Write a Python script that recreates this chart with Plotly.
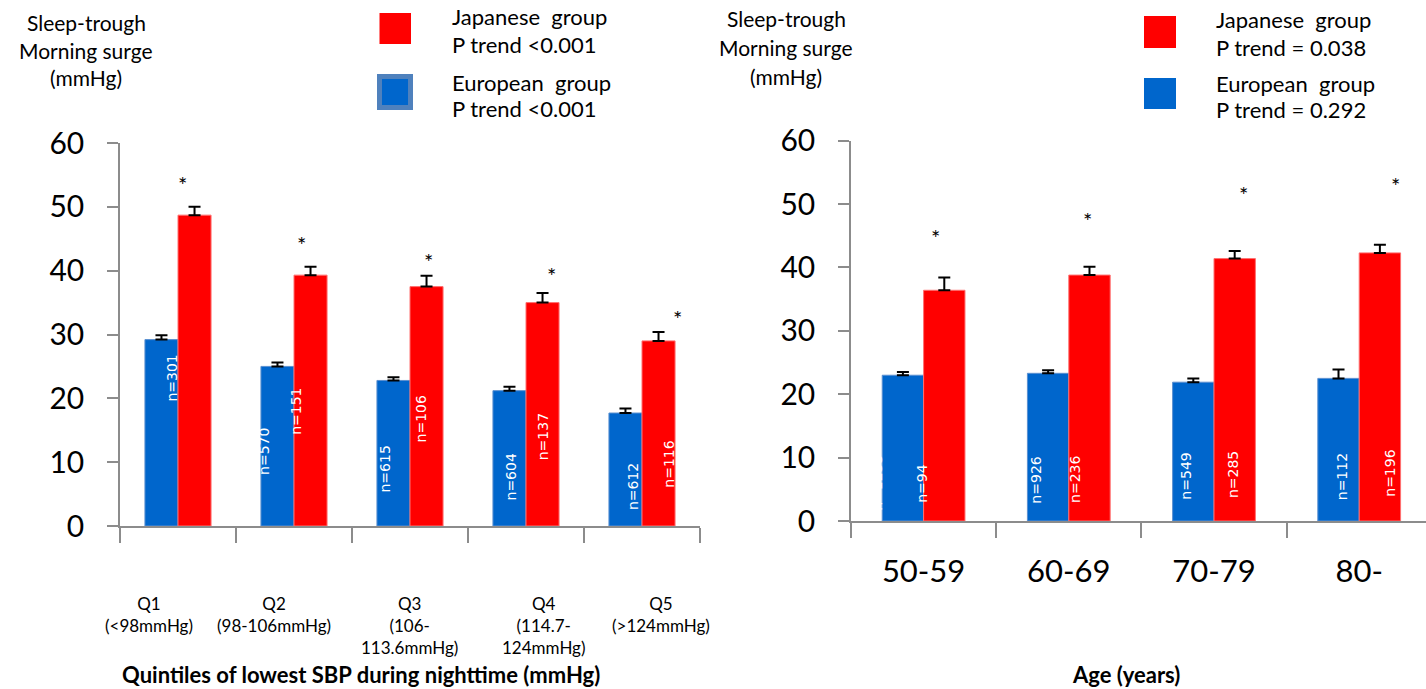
import plotly.graph_objects as go

W, H = 1426, 689

# ---------------- data ----------------
quint_cats = ["Q1", "Q2", "Q3", "Q4", "Q5"]
quint_labels = ["Q1<br>(&lt;98mmHg)", "Q2<br>(98-106mmHg)", "Q3<br>(106-<br>113.6mmHg)",
                "Q4<br>(114.7-<br>124mmHg)", "Q5<br>(&gt;124mmHg)"]
eu_quint = [29.2, 25.0, 22.8, 21.2, 17.7]
eu_quint_se = [0.7, 0.6, 0.5, 0.6, 0.7]
jp_quint = [48.7, 39.3, 37.5, 35.0, 29.0]
jp_quint_se = [1.3, 1.3, 1.7, 1.5, 1.4]
eu_quint_n = ["", "n=570", "n=615", "n=604", "n=612"]
jp_quint_n = ["n=301", "n=151", "n=106", "n=137", "n=116"]

age_cats = ["50-59", "60-69", "70-79", "80-"]
eu_age = [23.0, 23.3, 21.9, 22.5]
eu_age_se = [0.5, 0.5, 0.6, 1.4]
jp_age = [36.4, 38.8, 41.4, 42.3]
jp_age_se = [2.0, 1.3, 1.2, 1.3]
eu_age_n = ["n=1235", "n=926", "n=549", "n=112"]
jp_age_n = ["n=94", "n=236", "n=285", "n=196"]

ytitle_lines = ["Sleep-trough", "Morning surge", "(mmHg)"]
legend_left = ["Japanese\u00a0 group", "P trend &lt;0.001", "European\u00a0 group", "P trend &lt;0.001"]
legend_right = ["Japanese\u00a0 group", "P trend = 0.038", "European\u00a0 group", "P trend = 0.292"]
xtitle_left = "<b>Quintiles of lowest SBP during nighttime (mmHg)</b>"
xtitle_right = "<b>Age (years)</b>"

# ---------------- layout helpers (positions / styles) ----------------
BLUE = "#0066CC"
RED = "#FF0000"
AXC = "#8c8c8c"
FONT = "Lato, Calibri, sans-serif"
NFONT = "DejaVu Sans"


def px(x):
    return x / W


def py(y):
    return 1 - y / H


quint_label_dx = [-29, -20, -1, 17.5, 18.6]
quint_n_eu_pos = [(0, 0), (-30, 11.6), (-25, 8.85), (-15, 7.6), (-9, 6.1)]
quint_n_jp_pos = [(-6.3, 23.2), (1.7, 18.0), (11, 16.7), (17, 13.9), (27, 9.6)]
age_n_eu_pos = [(-46.7, 6.0), (-32.6, 6.4), (-28, 7.0), (-17.6, 7.0)]
age_n_jp_pos = [(-2.4, 5.9), (6.3, 6.5), (19, 7.25), (30.7, 7.6)]
quint_star_pos = [(4.9, 54.2), (7.4, 44.8), (18.6, 42.0), (25, 39.8), (35, 33.2)]
age_star_pos = [(11.4, 45.4), (19, 48.1), (29, 52.2), (36, 53.6)]

fig = go.Figure()


def add_bars(cats, vals, se, color, lcolor, xa, ya):
    fig.add_trace(go.Bar(
        x=cats, y=vals, xaxis=xa, yaxis=ya, showlegend=False,
        marker=dict(color=color, line=dict(color=lcolor, width=1)),
        error_y=dict(type="data", symmetric=False, array=se, arrayminus=[0] * len(se),
                     color="black", thickness=2, width=6),
        hoverinfo="skip",
    ))


add_bars(quint_cats, eu_quint, eu_quint_se, BLUE, "#5a8fd0", "x", "y")
add_bars(quint_cats, jp_quint, jp_quint_se, RED, "#ff7070", "x", "y")
add_bars(age_cats, eu_age, eu_age_se, BLUE, "#5a8fd0", "x2", "y2")
add_bars(age_cats, jp_age, jp_age_se, RED, "#ff7070", "x2", "y2")

ann = []

# n labels
for cats, labels, pos, xr, yr in [
    (quint_cats, eu_quint_n, quint_n_eu_pos, "x", "y"),
    (quint_cats, jp_quint_n, quint_n_jp_pos, "x", "y"),
    (age_cats, eu_age_n, age_n_eu_pos, "x2", "y2"),
    (age_cats, jp_age_n, age_n_jp_pos, "x2", "y2"),
]:
    for c, t, (dx, yv) in zip(cats, labels, pos):
        if not t:
            continue
        ann.append(dict(x=c, y=yv, xref=xr, yref=yr, text=t, showarrow=False,
                        xanchor="center", yanchor="middle",
                        textangle=-90, xshift=dx, font=dict(family=NFONT, size=14, color="white")))

# stars
for cats, pos, xr, yr in [(quint_cats, quint_star_pos, "x", "y"), (age_cats, age_star_pos, "x2", "y2")]:
    for c, (dx, yv) in zip(cats, pos):
        ann.append(dict(x=c, y=yv, xref=xr, yref=yr, text="*", showarrow=False,
                        xanchor="center", yanchor="middle",
                        xshift=dx, yshift=-4, font=dict(family=FONT, size=22, color="black")))

# left category labels
for c, t, dx in zip(quint_cats, quint_labels, quint_label_dx):
    ann.append(dict(x=c, y=py(592), xref="x", yref="paper", yanchor="top", xanchor="center",
                    text=t, showarrow=False, xshift=dx, align="center", borderpad=0,
                    font=dict(family=FONT, size=17, color="black")))

# y titles
for i, t in enumerate(ytitle_lines):
    ann.append(dict(x=px(86), y=py([22, 50, 78][i]), xref="paper", yref="paper", text=t,
                    xanchor="center", yanchor="middle",
                    showarrow=False, font=dict(family=FONT, size=21, color="black")))
    ann.append(dict(x=px(786), y=py([18, 47, 76][i]), xref="paper", yref="paper", text=t,
                    xanchor="center", yanchor="middle",
                    showarrow=False, font=dict(family=FONT, size=21, color="black")))

# legends
for t, yy in zip(legend_left, [16, 44, 82, 108]):
    ann.append(dict(x=px(450), y=py(yy), xref="paper", yref="paper", text=t,
                    xanchor="left", yanchor="middle",
                    showarrow=False, font=dict(family=FONT, size=22, color="black")))
for t, yy in zip(legend_right, [19, 47, 83, 109]):
    ann.append(dict(x=px(1214), y=py(yy), xref="paper", yref="paper", text=t,
                    xanchor="left", yanchor="middle",
                    showarrow=False, font=dict(family=FONT, size=22, color="black")))

# x titles
ann.append(dict(x=px(361), y=0, xref="paper", yref="paper", text=xtitle_left,
                xanchor="center", yanchor="bottom", borderpad=0,
                showarrow=False, font=dict(family=FONT, size=22, color="black")))
ann.append(dict(x=px(1126), y=0, xref="paper", yref="paper", text=xtitle_right,
                xanchor="center", yanchor="bottom", borderpad=0,
                showarrow=False, font=dict(family=FONT, size=22, color="black")))

shapes = [
    dict(type="rect", xref="paper", yref="paper", x0=px(379.5), x1=px(411), y0=py(44), y1=py(13),
         fillcolor=RED, line=dict(width=0)),
    dict(type="rect", xref="paper", yref="paper", x0=px(379.5), x1=px(410.5), y0=py(107.5), y1=py(76.5),
         fillcolor=BLUE, line=dict(width=5, color="#4F81BD")),
    dict(type="rect", xref="paper", yref="paper", x0=px(1144), x1=px(1176), y0=py(48), y1=py(16),
         fillcolor=RED, line=dict(width=0)),
    dict(type="rect", xref="paper", yref="paper", x0=px(1144), x1=px(1176), y0=py(109), y1=py(78),
         fillcolor=BLUE, line=dict(width=0)),
]

xcommon = dict(type="category", tickson="boundaries", ticks="outside", ticklen=15, tickwidth=1.5,
               tickcolor=AXC, showline=True, linecolor=AXC, linewidth=1.5, showgrid=False,
               zeroline=False, fixedrange=True, automargin=False)
ycommon = dict(range=[0, 60], dtick=10, ticks="outside", ticklen=11, tickwidth=1.5, tickcolor=AXC,
               showline=True, linecolor=AXC, linewidth=1.5, showgrid=False, zeroline=False,
               tickfont=dict(family=FONT, size=30, color="black"), ticklabelstandoff=17,
               fixedrange=True, automargin=False)

fig.update_layout(
    width=W, height=H, autosize=False,
    margin=dict(l=0, r=0, t=0, b=0, pad=0),
    paper_bgcolor="white", plot_bgcolor="white",
    barmode="group", bargap=0.43, bargroupgap=0,
    xaxis=dict(domain=[px(120), px(700)], range=[-0.5, 4.5], anchor="y",
               showticklabels=False, **xcommon),
    yaxis=dict(domain=[py(526), py(143)], anchor="x", **ycommon),
    xaxis2=dict(domain=[px(851), 1.0], range=[-0.5, -0.5 + 575 / 145.2], anchor="y2",
                tickfont=dict(family=FONT, size=31, color="black"), ticklabelstandoff=22,
                **xcommon),
    yaxis2=dict(domain=[py(521), py(140.7)], anchor="x2", **ycommon),
    annotations=ann, shapes=shapes,
    font=dict(family=FONT, color="black"),
)

fig.write_html("out.html")
